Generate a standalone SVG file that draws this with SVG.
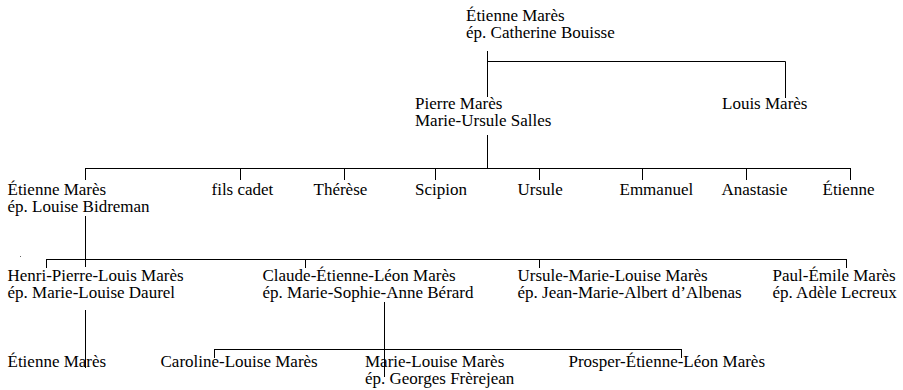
<svg xmlns="http://www.w3.org/2000/svg" width="903" height="390" viewBox="0 0 903 390">
<style>
text{font-size:17px;fill:#000}
.c path{stroke:#000;stroke-width:1;fill:none}
</style>
<rect width="903" height="390" fill="#fff"/>
<g class="c" id="connectors">
<path d="M487.5,51V97M487.5,61.5H785.5V98"/>
<path d="M487.5,135V168"/>
<path d="M85.5,168.5H850.5M85.5,168V180M240.5,168V180M344.5,168V180M435.5,168V180M539.5,168V180M642.5,168V180M746.5,168V180M850.5,168V180"/>
<path d="M85.5,216V267"/>
<path d="M46.5,259.5H846.5M46.5,259V268M305.5,259V268M539.5,259V268M846.5,259V268"/>
<path d="M85.5,310V368"/>
<path d="M384.5,302V377"/>
<path d="M214.5,349.5H681.5M214.5,349V358M681.5,349V358"/>
</g>
<rect x="20" y="256" width="1" height="1" fill="#666"/>
<g font-family="'Liberation Serif', Tinos, 'Times New Roman', 'DejaVu Serif', serif">
<g id="n0"><text x="466" y="21">Étienne Marès<tspan x="466" y="38">ép. Catherine Bouisse</tspan></text></g>
<g id="n1"><text x="415" y="109">Pierre Marès<tspan x="415" y="126">Marie-Ursule Salles</tspan></text></g>
<g id="n2"><text x="722" y="109">Louis Marès</text></g>
<g id="n3"><text x="7.5" y="195">Étienne Marès<tspan x="7.5" y="212">ép. Louise Bidreman</tspan></text></g>
<g id="n4"><text x="211.5" y="195">fils cadet</text></g>
<g id="n5"><text x="313.5" y="195">Thérèse</text></g>
<g id="n6"><text x="415" y="195">Scipion</text></g>
<g id="n7"><text x="517.5" y="195">Ursule</text></g>
<g id="n8"><text x="619.5" y="195">Emmanuel</text></g>
<g id="n9"><text x="721.5" y="195">Anastasie</text></g>
<g id="n10"><text x="822.5" y="195">Étienne</text></g>
<g id="n11"><text x="7.5" y="281">Henri-Pierre-Louis Marès<tspan x="7.5" y="298">ép. Marie-Louise Daurel</tspan></text></g>
<g id="n12"><text x="262.5" y="281">Claude-Étienne-Léon Marès<tspan x="262.5" y="298">ép. Marie-Sophie-Anne Bérard</tspan></text></g>
<g id="n13"><text x="517.5" y="281">Ursule-Marie-Louise Marès<tspan x="517.5" y="298">ép. Jean-Marie-Albert d’Albenas</tspan></text></g>
<g id="n14"><text x="772.5" y="281">Paul-Émile Marès<tspan x="772.5" y="298">ép. Adèle Lecreux</tspan></text></g>
<g id="n15"><text x="7.5" y="367">Étienne Marès</text></g>
<g id="n16"><text x="160.5" y="367">Caroline-Louise Marès</text></g>
<g id="n17"><text x="365" y="367">Marie-Louise Marès<tspan x="365" y="384">ép. Georges Frèrejean</tspan></text></g>
<g id="n18"><text x="568.5" y="367">Prosper-Étienne-Léon Marès</text></g>
</g>
</svg>
